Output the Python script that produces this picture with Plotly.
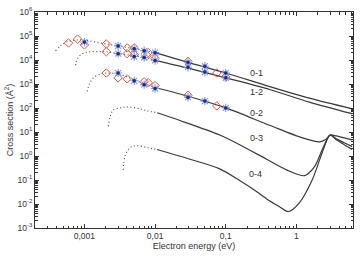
import numpy as np
import plotly.graph_objects as go

# ---------------- data ----------------
# transition curves: dotted (extrapolated) low-energy part and solid part
c01_dot_E = [0.00039, 0.00046, 0.00056, 0.00075, 0.0010, 0.00143, 0.00204, 0.0030, 0.00506, 0.010]
c01_dot_s = [24300, 38700, 56100, 67600, 67600, 56100, 46600, 38700, 29300, 20200]
c01_E = [0.010, 0.0292, 0.1, 0.417, 1.52, 6.15]
c01_s = [20200, 7980, 2870, 781, 256, 92.2]

c12_dot_E = [0.00075, 0.0008, 0.00094, 0.00121, 0.00168, 0.00204, 0.0030, 0.00506, 0.0070, 0.010]
c12_dot_s = [6030, 11600, 18400, 22200, 22200, 22200, 18400, 15300, 12700, 9600]
c12_E = [0.010, 0.0292, 0.1, 0.417, 1.52, 6.15]
c12_s = [9600, 4560, 1800, 591, 177, 57.9]

c02_dot_E = [0.0011, 0.00118, 0.00134, 0.00168, 0.00204, 0.0030, 0.00403, 0.00506, 0.0070, 0.010]
c02_dot_s = [491, 1030, 1800, 2610, 2870, 2610, 1980, 1500, 1030, 712]
c02_E = [0.010, 0.0292, 0.1, 0.417, 1.22, 2.11, 2.56, 3.0, 3.66, 4.74, 6.15]
c02_s = [712, 308, 101, 19.0, 5.68, 3.91, 4.71, 7.50, 6.84, 5.68, 4.71]

c03_dot_E = [0.00218, 0.00232, 0.00256, 0.00321, 0.00403, 0.00615, 0.0077, 0.0107]
c03_dot_s = [17.3, 43.8, 84.0, 101, 111, 92.2, 76.6, 63.5]
c03_E = [0.0107, 0.0225, 0.0823, 0.157, 0.378, 0.723, 1.30, 1.79, 2.32, 3.0, 3.66, 4.74, 6.15]
c03_s = [63.5, 30.2, 7.50, 2.96, 0.734, 0.264, 0.151, 0.349, 1.86, 7.50, 5.17, 3.57, 2.46]

c04_dot_E = [0.00354, 0.00378, 0.00445, 0.00557, 0.0077, 0.0107]
c04_dot_s = [0.264, 1.06, 2.24, 2.70, 2.24, 1.86]
c04_E = [0.0107, 0.0311, 0.0823, 0.157, 0.256, 0.378, 0.576, 0.771, 1.10, 1.68, 2.32, 3.0, 3.66, 4.74, 6.15]
c04_s = [1.86, 0.734, 0.290, 0.095, 0.0376, 0.0163, 0.00774, 0.00487, 0.0112, 0.104, 1.41, 7.50, 4.71, 2.96, 1.86]

# measured points: red diamonds and blue stars
dia_E = [0.000595, 0.0008, 0.001, 0.00204, 0.00403, 0.00506, 0.0080, 0.0292, 0.0747,
         0.00204, 0.00403, 0.00506, 0.0077, 0.010, 0.1,
         0.00204, 0.0030, 0.00403, 0.0070, 0.0080, 0.010, 0.0292, 0.0747]
dia_s = [51200, 74100, 42500, 46600, 32100, 32100, 20200, 8750, 2870,
         22200, 18400, 16800, 15300, 11600, 1980,
         2870, 1800, 1640, 1240, 1130, 857, 339, 122]
star_E = [0.001, 0.0030, 0.00506, 0.0070, 0.010, 0.0292, 0.0506, 0.1,
          0.0030, 0.00506, 0.0070, 0.010, 0.0292, 0.0506, 0.1,
          0.0030, 0.00506, 0.0070, 0.010, 0.0292, 0.0506, 0.1]
star_s = [56100, 38700, 29300, 24300, 20200, 7980, 5500, 2870,
          18400, 13900, 12700, 9600, 5010, 3150, 1800,
          2870, 1360, 940, 649, 281, 194, 101]

labels = ["0-1", "1-2", "0-2", "0-3", "0-4"]
label_E = [0.27, 0.27, 0.27, 0.27, 0.26]
label_s = [2870, 447, 63, 5.6, 0.18]

y_tickvals = [1e-3, 1e-2, 1e-1, 1, 10, 100, 1e3, 1e4, 1e5, 1e6]
y_ticktext = ["10<sup>-3</sup>", "10<sup>-2</sup>", "10<sup>-1</sup>", "10<sup>0</sup>", "10<sup>1</sup>",
              "10<sup>2</sup>", "10<sup>3</sup>", "10<sup>4</sup>", "10<sup>5</sup>", "10<sup>6</sup>"]
x_tickvals = [0.001, 0.01, 0.1, 1]
x_ticktext = ["0,001", "0,01", "0,1", "1"]

# ---------------- figure ----------------
fig = go.Figure()
line_col = "#3a3a3a"
dot_col = "#555555"
for dE, ds, E, s in [(c01_dot_E, c01_dot_s, c01_E, c01_s),
                     (c12_dot_E, c12_dot_s, c12_E, c12_s),
                     (c02_dot_E, c02_dot_s, c02_E, c02_s),
                     (c03_dot_E, c03_dot_s, c03_E, c03_s),
                     (c04_dot_E, c04_dot_s, c04_E, c04_s)]:
    fig.add_trace(go.Scatter(x=dE, y=ds, mode="lines",
                             line=dict(color=dot_col, width=1.2, dash="1px,2.5px", shape="spline", smoothing=1),
                             showlegend=False, hoverinfo="skip"))
    fig.add_trace(go.Scatter(x=E, y=s, mode="lines",
                             line=dict(color=line_col, width=1.2, shape="spline", smoothing=0.8),
                             showlegend=False, hoverinfo="skip"))

fig.add_trace(go.Scatter(x=dia_E, y=dia_s, mode="markers",
                         marker=dict(symbol="diamond-open", size=6.5, color="#e8553f", line=dict(width=1)),
                         showlegend=False))
fig.add_trace(go.Scatter(x=star_E, y=star_s, mode="markers",
                         marker=dict(symbol="asterisk-open", size=7, color="#7f9be8", line=dict(width=1.1, color="#7f9be8")),
                         showlegend=False))
fig.add_trace(go.Scatter(x=star_E, y=star_s, mode="markers",
                         marker=dict(symbol="circle", size=3.5, color="#28287a"),
                         showlegend=False))

for t, e, s in zip(labels, label_E, label_s):
    fig.add_annotation(x=np.log10(e), y=np.log10(s), text=t, showarrow=False,
                       font=dict(size=9, color="#333333"))

def minor_vals(lo, hi):
    out = []
    for d in range(lo, hi + 1):
        for m in range(2, 10):
            out.append(m * 10.0 ** d)
    return out

axis_common = dict(type="log", showgrid=False, zeroline=False, showline=True, linecolor="#333333",
                   linewidth=1, ticks="inside", mirror="allticks", tickcolor="#333333",
                   ticklen=4, tickwidth=1,
                   tickfont=dict(size=8.5, color="#333333", family="Liberation Sans, Arial, sans-serif"))

fig.update_xaxes(**axis_common, range=[np.log10(0.0002), 0.80],
                 tickmode="array", tickvals=x_tickvals, ticktext=x_ticktext,
                 minor=dict(tickmode="array", tickvals=minor_vals(-4, 0), ticks="inside", ticklen=2.5,
                            tickcolor="#333333", showgrid=False),
                 title=dict(text="Electron energy (eV)", standoff=2,
                            font=dict(size=9, color="#333333", family="Liberation Sans, Arial, sans-serif")))
fig.update_yaxes(**axis_common, range=[-3, 6],
                 tickmode="array", tickvals=y_tickvals, ticktext=y_ticktext,
                 minor=dict(tickmode="array", tickvals=minor_vals(-3, 5), ticks="inside", ticklen=2.5,
                            tickcolor="#333333", showgrid=False),
                 title=dict(text="Cross section (Å<sup>2</sup>)", standoff=2,
                            font=dict(size=9, color="#333333", family="Liberation Sans, Arial, sans-serif")))

fig.update_layout(width=360, height=256, margin=dict(l=35, r=6, t=10, b=23),
                  paper_bgcolor="white", plot_bgcolor="white",
                  font=dict(family="Liberation Sans, Arial, sans-serif", color="#333333"))

fig.write_html("out.html")
